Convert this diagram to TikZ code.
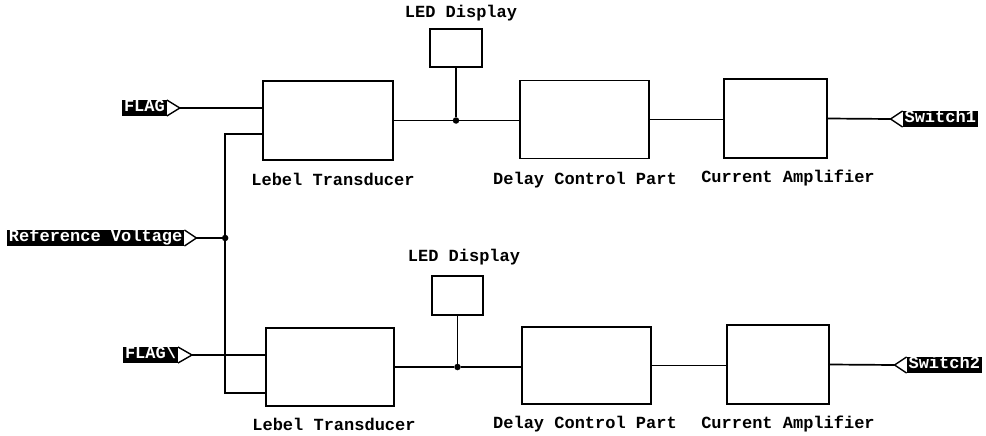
\documentclass[tikz,border=0pt]{standalone}
\usepackage{fontspec}
\setmonofont{Liberation Mono}
\usetikzlibrary{calc}
\begin{document}
\begin{tikzpicture}[x=1pt,y=-1pt,
  wire/.style={line width=1.7pt},
  blk/.style={draw,line width=1.7pt,rectangle,inner sep=0pt},
  lbl/.style={font=\ttfamily\bfseries\fontsize{17}{19}\selectfont,inner sep=0pt,anchor=center},
  port/.style={fill=black,text=white,draw=black,line width=1pt,font=\ttfamily\bfseries\fontsize{17}{19}\selectfont,
     inner xsep=1.5pt,inner ysep=1.5pt,text height=9.5pt,text depth=2.5pt},
  tipline/.style={line width=1.4pt},
  dot/.style={circle,fill=black,inner sep=0pt,minimum size=6.5pt}]
\useasboundingbox (0,0) rectangle (986,436);

% ---- top row boxes
\node[blk,minimum width=130pt,minimum height=79pt] (LT1) at (328,120.5) {};
\node[blk,minimum width=52pt,minimum height=38pt] (LED1) at (456,48) {};
\node[blk,minimum width=129pt,minimum height=78pt] (DC1) at (584.5,119.5) {};
\node[blk,minimum width=103pt,minimum height=79pt] (CA1) at (775.5,118.5) {};
% ---- bottom row boxes
\node[blk,minimum width=128pt,minimum height=78pt] (LT2) at (330,367) {};
\node[blk,minimum width=51pt,minimum height=39pt] (LED2) at (457.5,295.5) {};
\node[blk,minimum width=129pt,minimum height=77pt] (DC2) at (586.5,365.5) {};
\node[blk,minimum width=102pt,minimum height=79pt] (CA2) at (778,364.5) {};

% ---- labels
\node[lbl] (tLED1) at (461,13) {LED Display};
\node[lbl] (tLT1) at (333,179) {Lebel Transducer};
\node[lbl] (tDC1) at (585,180) {Delay Control Part};
\node[lbl] (tCA1) at (788,178) {Current Amplifier};
\node[lbl] (tLED2) at (464,257) {LED Display};
\node[lbl] (tLT2) at (334,424) {Lebel Transducer};
\node[lbl] (tDC2) at (585,424) {Delay Control Part};
\node[lbl] (tCA2) at (788,424) {Current Amplifier};

% ---- ports
\node[port,anchor=west] (flag1) at (122,108) {FLAG};
\coordinate (flag1tip) at ($(flag1.east)+(13,0)$);
\draw[tipline] (flag1.north east) -- (flag1tip) -- (flag1.south east);

\node[port,anchor=west] (ref) at (7,238) {Reference Voltage};
\coordinate (reftip) at ($(ref.east)+(12,0)$);
\draw[tipline] (ref.north east) -- (reftip) -- (ref.south east);

\node[port,anchor=west] (flag2) at (123,355) {FLAG\textbackslash};
\coordinate (flag2tip) at ($(flag2.east)+(14,0)$);
\draw[tipline] (flag2.north east) -- (flag2tip) -- (flag2.south east);

\node[port,anchor=east] (sw1) at (978,119) {Switch1};
\coordinate (sw1tip) at ($(sw1.west)+(-12,0)$);
\draw[tipline] (sw1.north west) -- (sw1tip) -- (sw1.south west);

\node[port,anchor=east] (sw2) at (982,365) {Switch2};
\coordinate (sw2tip) at ($(sw2.west)+(-12,0)$);
\draw[tipline] (sw2.north west) -- (sw2tip) -- (sw2.south west);

% ---- junctions
\coordinate (LT1in2) at ([yshift=-13.5pt]LT1.west);
\coordinate (LT2in2) at ([yshift=-26pt]LT2.west);
\coordinate (vtop) at ([xshift=-37pt]LT1in2);
\node[dot] (jref) at (vtop |- reftip) {};
\coordinate (vbot) at (vtop |- LT2in2);
\node[dot] (j1) at (LED1.south |- LT1.east) {};
\node[dot] (j2) at (LED2.south |- LT2.east) {};

% ---- wires top
\draw[wire] (flag1tip) -- (flag1tip -| LT1.west);
\draw[wire] (LT1in2) -- (vtop) -- (vbot) -- (LT2in2);
\draw[wire] (reftip) -- (jref);
\draw[wire] (LT1.east) -- (j1) -- (DC1.west |- j1);
\draw[wire] (LED1.south) -- (j1);
\draw[wire] (DC1.east) -- (DC1.east -| CA1.west);
\draw[wire] (CA1.east) -- (sw1tip);
% ---- wires bottom
\draw[wire] (flag2tip) -- (flag2tip -| LT2.west);
\draw[wire] (LT2.east) -- (j2) -- (DC2.west |- j2);
\draw[wire] (LED2.south) -- (j2);
\draw[wire] (DC2.east) -- (DC2.east -| CA2.west);
\draw[wire] (CA2.east) -- (sw2tip);
\end{tikzpicture}
\end{document}
